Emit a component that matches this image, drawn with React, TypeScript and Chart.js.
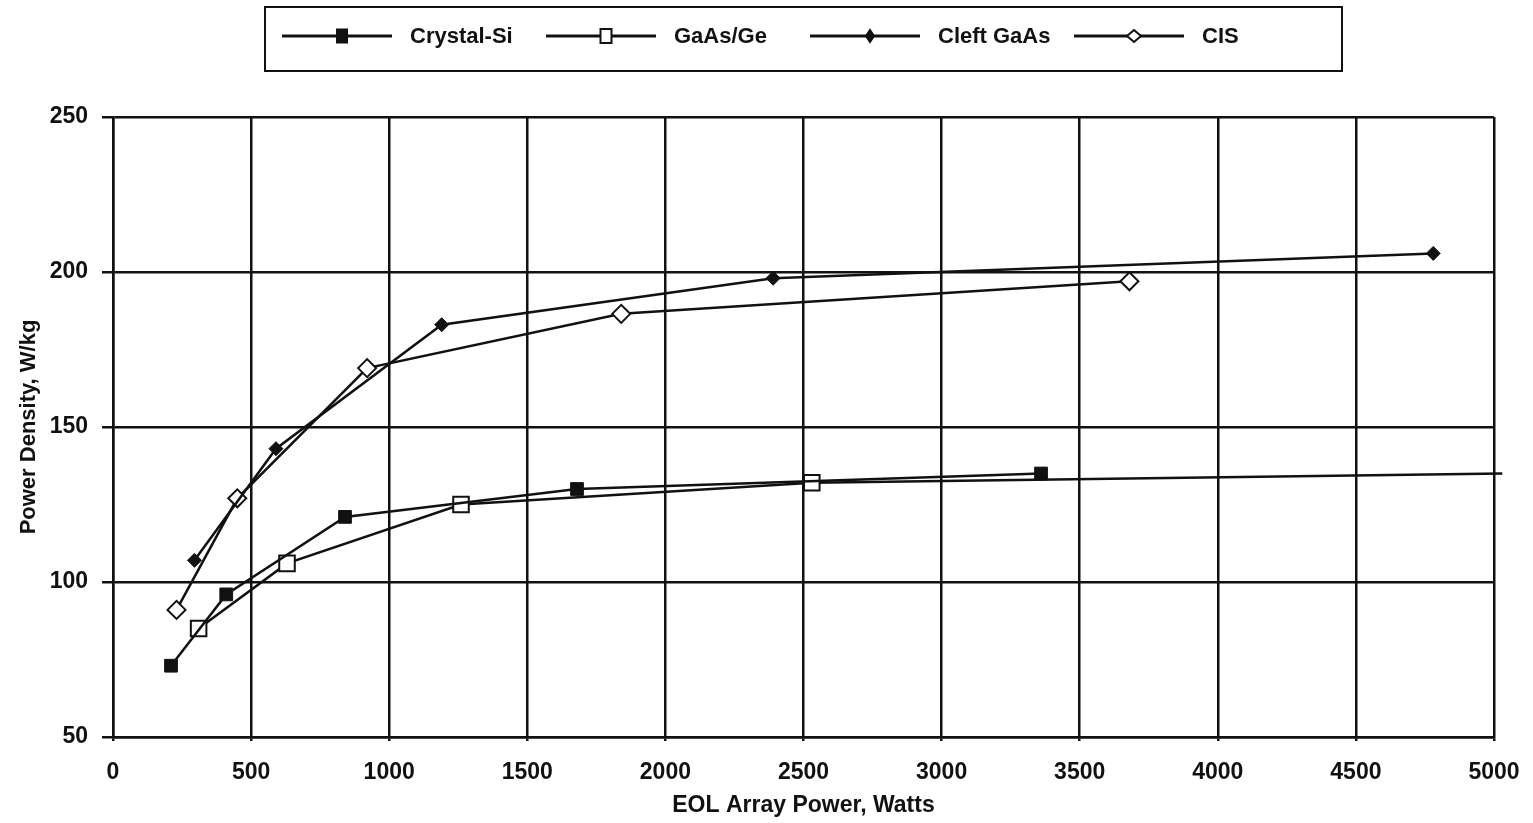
import React, { useEffect, useRef } from "react";
import { Chart, registerables } from "chart.js";

Chart.register(...registerables);

// ---- data ----
const seriesNames = ["Crystal-Si", "GaAs/Ge", "Cleft GaAs", "CIS"];

const crystalSiX = [210, 410, 840, 1680, 3360];
const crystalSiY = [73, 96, 121, 130, 135];

const gaasGeX = [310, 630, 1260, 2530, 5030];
const gaasGeY = [85, 106, 125, 132, 135];

const cleftGaasX = [295, 590, 1190, 2390, 4780];
const cleftGaasY = [107, 143, 183, 198, 206];

const cisX = [230, 450, 920, 1840, 3680];
const cisY = [91, 127, 169, 186.5, 197];

const xTickValues = [0, 500, 1000, 1500, 2000, 2500, 3000, 3500, 4000, 4500, 5000];
const yTickValues = [50, 100, 150, 200, 250];

const xTitle = "EOL Array Power, Watts";
const yTitle = "Power Density, W/kg";

// ---- helpers ----
const INK = "#111111";
const FONT_FAMILY = "'Liberation Sans', Arial, Helvetica, sans-serif";

const toPoints = (xs: number[], ys: number[]) => xs.map((x, i) => ({ x, y: ys[i] }));

function drawMarker(ctx: CanvasRenderingContext2D, style: string, filled: boolean, x: number, y: number, w: number, h: number) {
  ctx.save();
  ctx.beginPath();
  if (style === "rect") {
    ctx.rect(x - w / 2, y - h / 2, w, h);
  } else {
    ctx.moveTo(x, y - h / 2);
    ctx.lineTo(x + w / 2, y);
    ctx.lineTo(x, y + h / 2);
    ctx.lineTo(x - w / 2, y);
    ctx.closePath();
  }
  ctx.fillStyle = filled ? INK : "#ffffff";
  ctx.fill();
  ctx.lineWidth = 2;
  ctx.strokeStyle = INK;
  ctx.stroke();
  ctx.restore();
}

const legendMarkers = [
  { style: "rect", filled: true, w: 10, h: 13 },
  { style: "rect", filled: false, w: 11, h: 14 },
  { style: "rectRot", filled: true, w: 8, h: 12 },
  { style: "rectRot", filled: false, w: 14, h: 12 },
];

const boxLegendPlugin = {
  id: "boxLegend",
  afterDraw(chart: any) {
    const ctx: CanvasRenderingContext2D = chart.ctx;
    const ca = chart.chartArea;
    const cx = (ca.left + ca.right) / 2;
    const w = 1077;
    const h = 64;
    const x0 = cx - w / 2;
    const y0 = 7;
    ctx.save();
    ctx.lineWidth = 2;
    ctx.strokeStyle = INK;
    ctx.strokeRect(x0, y0, w, h);
    const ly = y0 + 29;
    chart.data.datasets.forEach((ds: any, i: number) => {
      const a = x0 + 17 + i * 264;
      ctx.beginPath();
      ctx.lineWidth = 3;
      ctx.strokeStyle = INK;
      ctx.moveTo(a, ly);
      ctx.lineTo(a + 110, ly);
      ctx.stroke();
      const m = legendMarkers[i];
      drawMarker(ctx, m.style, m.filled, a + 60, ly, m.w, m.h);
      ctx.fillStyle = INK;
      ctx.font = `bold 22px ${FONT_FAMILY}`;
      ctx.textAlign = "left";
      ctx.textBaseline = "middle";
      ctx.fillText(ds.label, a + 128, ly + 1);
    });
    ctx.restore();
  },
};

const whiteBgPlugin = {
  id: "whiteBg",
  beforeDraw(chart: any) {
    const ctx = chart.ctx;
    ctx.save();
    ctx.fillStyle = "#ffffff";
    ctx.fillRect(0, 0, chart.width, chart.height);
    ctx.restore();
  },
};

export default function App() {
  const canvasRef = useRef<HTMLCanvasElement | null>(null);

  useEffect(() => {
    const canvas = canvasRef.current;
    if (!canvas) return;

    const tickFont = { family: FONT_FAMILY, size: 23, weight: "bold" as const };
    const titleFont = { family: FONT_FAMILY, size: 23, weight: "bold" as const };

    const chart = new Chart(canvas, {
      type: "line",
      data: {
        datasets: [
          {
            label: seriesNames[0],
            data: toPoints(crystalSiX, crystalSiY),
            borderColor: INK,
            borderWidth: 2.5,
            pointStyle: "rect",
            pointRadius: 9,
            pointBackgroundColor: INK,
            pointBorderColor: INK,
            pointBorderWidth: 1,
            tension: 0,
          },
          {
            label: seriesNames[1],
            data: toPoints(gaasGeX, gaasGeY),
            borderColor: INK,
            borderWidth: 2.5,
            pointStyle: "rect",
            pointRadius: [11, 11, 11, 11, 0],
            pointBackgroundColor: "#ffffff",
            pointBorderColor: INK,
            pointBorderWidth: 2,
            tension: 0,
            clip: false,
          },
          {
            label: seriesNames[2],
            data: toPoints(cleftGaasX, cleftGaasY),
            borderColor: INK,
            borderWidth: 2.5,
            pointStyle: "rectRot",
            pointRadius: 7,
            pointBackgroundColor: INK,
            pointBorderColor: INK,
            pointBorderWidth: 1,
            tension: 0,
          },
          {
            label: seriesNames[3],
            data: toPoints(cisX, cisY),
            borderColor: INK,
            borderWidth: 2.5,
            pointStyle: "rectRot",
            pointRadius: 9,
            pointBackgroundColor: "#ffffff",
            pointBorderColor: INK,
            pointBorderWidth: 2,
            tension: 0,
          },
        ] as any,
      },
      options: {
        animation: false,
        responsive: false,
        devicePixelRatio: 1,
        events: [],
        layout: { padding: { top: 117, right: 39, bottom: 0, left: 0 } },
        plugins: {
          legend: { display: false },
          tooltip: { enabled: false },
          title: { display: false },
        },
        scales: {
          x: {
            type: "linear",
            min: 0,
            max: 5000,
            afterBuildTicks: (scale: any) => {
              scale.ticks = xTickValues.map((v) => ({ value: v }));
            },
            afterFit: (scale: any) => {
              scale.height = 86;
              scale.paddingLeft = 0;
              scale.paddingRight = 0;
            },
            ticks: {
              color: INK,
              font: tickFont,
              padding: 18,
              maxRotation: 0,
              autoSkip: false,
              callback: (v: any) => String(v),
            },
            grid: { color: INK, lineWidth: 2.5, tickLength: 4, drawTicks: true },
            border: { color: INK, width: 2.5 },
            title: {
              display: true,
              text: xTitle,
              color: INK,
              font: titleFont,
              padding: { top: 0, bottom: 4 },
            },
          },
          y: {
            type: "linear",
            min: 50,
            max: 250,
            afterBuildTicks: (scale: any) => {
              scale.ticks = yTickValues.map((v) => ({ value: v }));
            },
            afterFit: (scale: any) => {
              scale.width = 113;
              scale.paddingTop = 0;
              scale.paddingBottom = 0;
            },
            ticks: {
              color: INK,
              font: tickFont,
              padding: 14,
              callback: (v: any) => String(v),
            },
            grid: { color: INK, lineWidth: 2.5, tickLength: 11, drawTicks: true },
            border: { color: INK, width: 2.5 },
            title: {
              display: true,
              text: yTitle,
              color: INK,
              font: { family: FONT_FAMILY, size: 22, weight: "bold" as const },
              padding: { top: 16, bottom: 0 },
            },
          },
        },
      } as any,
      plugins: [whiteBgPlugin, boxLegendPlugin],
    });

    return () => {
      chart.destroy();
    };
  }, []);

  return (
    <div style={{ position: "fixed", left: 0, top: 0, width: 1533, height: 823, background: "#fff" }}>
      <canvas ref={canvasRef} width={1533} height={823} style={{ display: "block", width: 1533, height: 823 }} />
    </div>
  );
}
